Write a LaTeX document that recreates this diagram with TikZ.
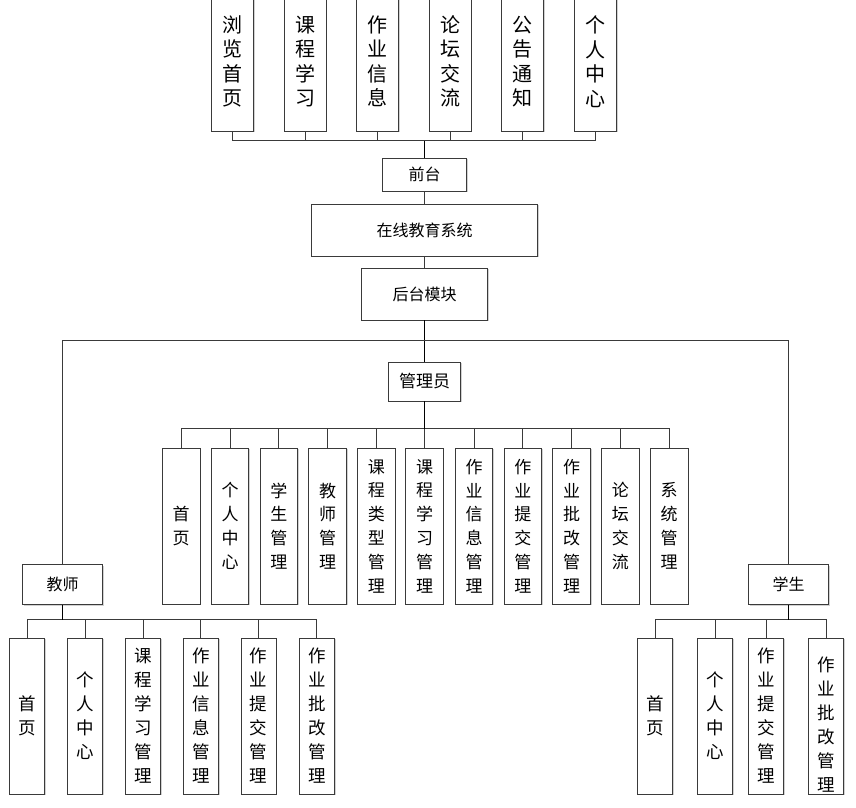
\documentclass[tikz,border=0pt]{standalone}
\usepackage{fontspec}
\setmainfont{Noto Sans CJK SC}
\usetikzlibrary{shadows}
\definecolor{edge}{HTML}{3A3A3A}
\tikzset{
  every picture/.style={x=1pt,y=1pt},
  base/.style={draw=edge, line width=0.9pt, fill=white, inner sep=0pt, align=center,
    drop shadow={shadow xshift=1.2pt, shadow yshift=-1.2pt, opacity=0.18, fill=black}},
  topbox/.style={base, minimum width=42pt, minimum height=139pt, font=\fontsize{20}{24.5}\selectfont},
  headbox/.style={base, font=\fontsize{16}{18}\selectfont},
  adminbox/.style={base, minimum width=37.5pt, minimum height=156pt, font=\fontsize{17}{23.8}\selectfont},
  sidebox/.style={base, minimum width=35pt, minimum height=156pt, font=\fontsize{17.5}{24}\selectfont},
  conn/.style={draw=edge, line width=0.9pt},
  trunk/.style={draw=black, line width=1.5pt},
}
\begin{document}
\begin{tikzpicture}
\useasboundingbox (0,0) rectangle (856,-807);
\clip (0,0) rectangle (856,-807);
\fill[white] (0,0) rectangle (856,-807);

% top row
\node[topbox] (t1) at (232.5,-61.5) {浏\\览\\首\\页};
\node[topbox] (t2) at (305,-61.5) {课\\程\\学\\习};
\node[topbox] (t3) at (377.7,-61.5) {作\\业\\信\\息};
\node[topbox] (t4) at (450.2,-61.5) {论\\坛\\交\\流};
\node[topbox] (t5) at (522.7,-61.5) {公\\告\\通\\知};
\node[topbox] (t6) at (595.5,-61.5) {个\\人\\中\\心};

% center column
\node[headbox, minimum width=84pt, minimum height=33pt] (qt) at (424.5,-174.5) {前台};
\node[headbox, minimum width=226pt, minimum height=52pt] (sys) at (424.5,-230) {在线教育系统};
\node[headbox, minimum width=126pt, minimum height=52pt] (ht) at (424.5,-294) {后台模块};
\node[headbox, minimum width=72pt, minimum height=39pt, font=\fontsize{17}{19}\selectfont] (gly) at (424.5,-381.5) {管理员};

% admin row
\node[adminbox] (a1) at (181.2,-526) {首\\页};
\node[adminbox] (a2) at (230.0,-526) {个\\人\\中\\心};
\node[adminbox] (a3) at (278.8,-526) {学\\生\\管\\理};
\node[adminbox] (a4) at (327.6,-526) {教\\师\\管\\理};
\node[adminbox] (a5) at (376.4,-526) {课\\程\\类\\型\\管\\理};
\node[adminbox] (a6) at (424.5,-526) {课\\程\\学\\习\\管\\理};
\node[adminbox] (a7) at (474.0,-526) {作\\业\\信\\息\\管\\理};
\node[adminbox] (a8) at (522.8,-526) {作\\业\\提\\交\\管\\理};
\node[adminbox] (a9) at (571.6,-526) {作\\业\\批\\改\\管\\理};
\node[adminbox] (a10) at (620.4,-526) {论\\坛\\交\\流};
\node[adminbox] (a11) at (669.2,-526) {系\\统\\管\\理};

% teacher
\node[headbox, minimum width=80pt, minimum height=40pt] (js) at (62.5,-584.5) {教师};
\node[sidebox] (j1) at (27.2,-716) {首\\页};
\node[sidebox] (j2) at (85.3,-716) {个\\人\\中\\心};
\node[sidebox] (j3) at (143.2,-716) {课\\程\\学\\习\\管\\理};
\node[sidebox] (j4) at (200.8,-716) {作\\业\\信\\息\\管\\理};
\node[sidebox] (j5) at (258.5,-716) {作\\业\\提\\交\\管\\理};
\node[sidebox] (j6) at (316.8,-716) {作\\业\\批\\改\\管\\理};

% student
\node[headbox, minimum width=80pt, minimum height=40pt] (xs) at (788.5,-584.5) {学生};
\node[sidebox] (s1) at (655,-716) {首\\页};
\node[sidebox] (s2) at (715,-716) {个\\人\\中\\心};
\node[sidebox] (s3) at (766.3,-716) {作\\业\\提\\交\\管\\理};
\node[sidebox] (s4) at (826,-716) {};
\node[font=\fontsize{17.5}{24}\selectfont, align=center, inner sep=0pt] (s4t) at (826,-724.5) {作\\业\\批\\改\\管\\理};

% coordinates for buses
\coordinate (busT) at (424.5,-140.5);
\coordinate (hl) at (424.5,-340.5);
\coordinate (busA) at (424.5,-428.5);
\coordinate (busJ) at (62.5,-619.5);
\coordinate (busS) at (788.5,-619.5);

% top bus
\foreach \i in {1,...,6} {\draw[conn] (t\i.south) |- (busT);}
\draw[trunk] (qt.north) -- (busT);
\draw[conn] (qt.south) -- (sys.north);
\draw[conn] (sys.south) -- (ht.north);
\draw[trunk] (ht.south) -- (gly.north);
\draw[conn] (js.north) |- (hl);
\draw[conn] (xs.north) |- (hl);

% admin bus
\foreach \i in {1,...,11} {\draw[conn] (a\i.north) |- (busA);}
\draw[trunk] (gly.south) -- (busA);

% teacher bus
\foreach \i in {1,...,6} {\draw[conn] (j\i.north) |- (busJ);}
\draw[trunk] (js.south) -- (busJ);

% student bus
\foreach \i in {1,...,4} {\draw[conn] (s\i.north) |- (busS);}
\draw[trunk] (xs.south) -- (busS);
\end{tikzpicture}
\end{document}
